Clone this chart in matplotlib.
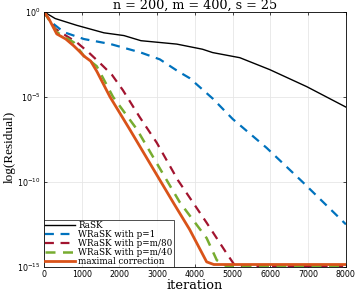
import matplotlib
matplotlib.use("Agg")
import matplotlib.pyplot as plt
import numpy as np

title = "n = 200, m = 400, s = 25"
labels = ["RaSK", "WRaSK with p=1", "WRaSK with p=m/80", "WRaSK with p=m/40", "maximal correction"]

it_rask = [0, 300, 870, 1590, 2120, 2570, 3520, 4200, 4470, 5190, 5980, 6960, 8000]
res_rask = [1.0, 0.4, 0.16, 0.058, 0.04, 0.02, 0.0126, 6.3e-3, 4e-3, 2e-3, 4e-4, 4e-5, 2.5e-6]

it_p1 = [0, 190, 530, 1060, 1770, 2570, 3070, 3550, 3860, 4470, 5000, 5900, 6850, 8000]
res_p1 = [1.0, 0.25, 0.063, 0.025, 0.0126, 4e-3, 1.6e-3, 3.2e-4, 1.26e-4, 8e-6, 5e-7, 1e-8, 1e-10, 3.2e-13]

it_p80 = [0, 300, 580, 870, 1190, 1500, 1800, 2090, 2540, 2990, 3550, 4310, 4840, 5050, 5300, 8000]
res_p80 = [1.0, 0.1, 0.04, 0.016, 4e-3, 9e-4, 2e-4, 2.5e-5, 6.3e-7, 2e-8, 1.26e-10, 4e-13, 6.3e-15, 1.3e-15, 1.1e-15, 1.1e-15]

it_p40 = [0, 340, 790, 1060, 1400, 1830, 2460, 3200, 3600, 4310, 4580, 4840, 8000]
res_p40 = [1.0, 0.063, 0.016, 2.5e-3, 6.3e-4, 1e-5, 1.26e-7, 2e-10, 6.3e-12, 5e-14, 2.5e-15, 1.1e-15, 1.1e-15]

it_max = [0, 130, 340, 580, 790, 930, 1060, 1240, 1400, 1750, 2270, 3020, 3450, 3860, 4310, 4500, 8000]
res_max = [1.0, 0.39, 0.05, 0.025, 0.01, 5e-3, 2.5e-3, 1.26e-3, 3.2e-4, 1e-5, 1.26e-7, 2e-10, 5e-12, 1.6e-13, 2e-15, 1.4e-15, 1.4e-15]

plt.rcParams['font.family'] = ['DejaVu Serif']
fig = plt.figure(figsize=(3.57, 2.91), dpi=100)
ax = fig.add_axes([0.123, 0.0825, 0.846, 0.877])

ax.plot(it_rask, res_rask, color='black', lw=1.0, label=labels[0])
ax.plot(it_p1, res_p1, color='#0072BD', lw=1.6, ls=(0, (4, 3)), label=labels[1])
ax.plot(it_p80, res_p80, color='#A2142F', lw=1.6, ls=(0, (4, 3)), label=labels[2])
ax.plot(it_p40, res_p40, color='#77AC30', lw=1.8, ls=(0, (4, 3)), label=labels[3])
ax.plot(it_max, res_max, color='#D95319', lw=2.0, label=labels[4])

ax.set_yscale('log')
ax.set_xlim(0, 8000)
ax.set_ylim(1e-15, 1.0)
ax.set_yticks([1e0, 1e-5, 1e-10, 1e-15])
ax.minorticks_off()
ax.set_xticks(np.arange(0, 8001, 1000))
ax.grid(True, color='#e6e6e6', lw=0.6)
ax.set_axisbelow(True)
ax.tick_params(direction='in', length=2, width=0.5, top=True, right=True, labelsize=5.7, pad=2.5)
for lab in ax.get_xticklabels() + ax.get_yticklabels():
    lab.set_fontfamily('DejaVu Sans')
for s in ax.spines.values():
    s.set_linewidth(0.6)

ax.set_title(title, fontsize=9.2, pad=2)
ax.set_xlabel("iteration", fontsize=9.3, labelpad=0)
ax.set_ylabel("log(Residual)", fontsize=9.5, family='Liberation Serif')
ax.yaxis.set_label_coords(-0.092, 0.47)

leg = ax.legend(loc='lower left', prop={'family': 'DejaVu Serif', 'size': 6.3}, frameon=True,
                fancybox=False, edgecolor='black', borderpad=0.1, labelspacing=0.0,
                handlelength=3.5, handletextpad=0.35, borderaxespad=0.0)
leg.get_frame().set_linewidth(0.6)

fig.savefig("out.png", dpi=100)
